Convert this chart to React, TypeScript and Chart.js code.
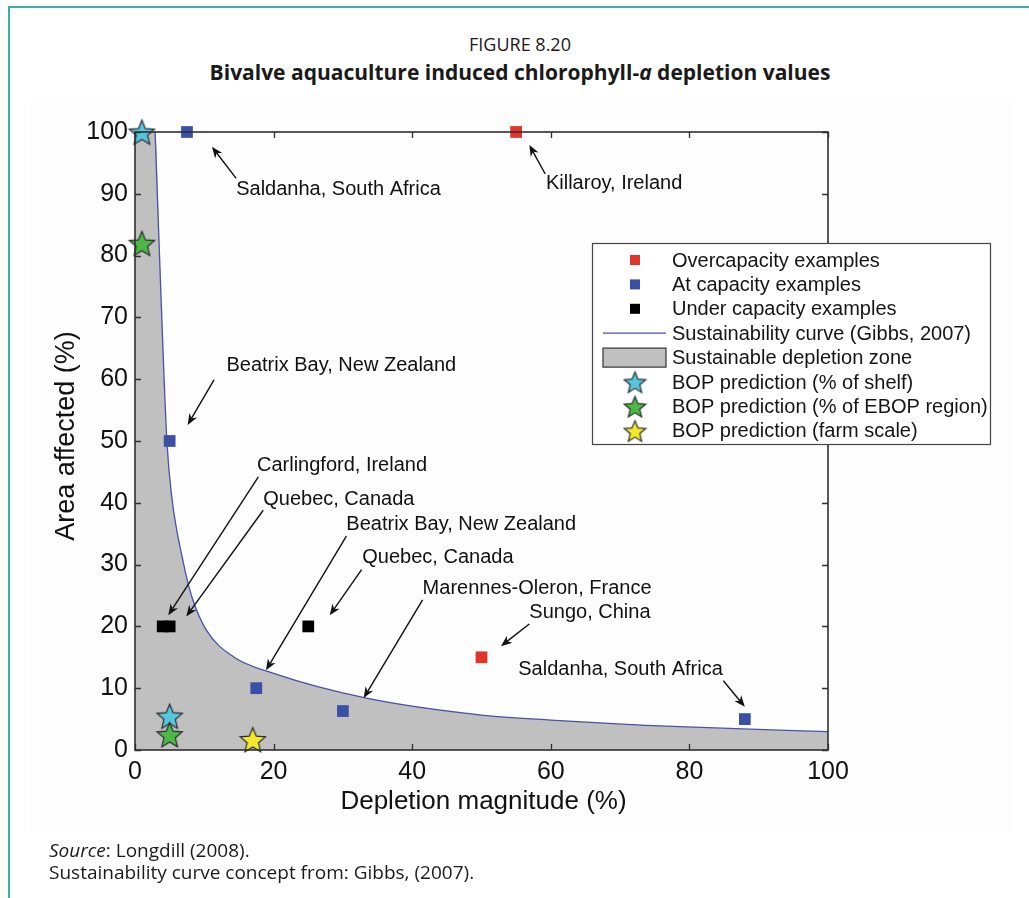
import React, { useEffect, useRef } from "react";
import { Chart, registerables } from "chart.js";
Chart.register(...registerables);

// ---------- data ----------
const overX = [55, 50];
const overY = [100, 15];
const atX = [7.5, 5, 17.5, 30, 88];
const atY = [100, 50, 10, 6.3, 5];
const underX = [4, 5, 25];
const underY = [20, 20, 20];
const curveX = [2.9, 3.7, 4.6, 5.3, 7, 8.2, 10.3, 14.2, 20, 33.4, 50, 60, 78.6, 100];
const curveY = [100, 75, 50, 41, 30.2, 24.8, 19.4, 15.1, 12.4, 8.4, 5.66, 4.85, 3.77, 2.96];
const shelfX = [1, 5];
const shelfY = [100, 5.5];
const ebopX = [1, 5];
const ebopY = [82, 2.5];
const farmX = [17];
const farmY = [1.7];

const xTicks = [0, 20, 40, 60, 80, 100];
const yTicks = [0, 10, 20, 30, 40, 50, 60, 70, 80, 90, 100];

const annText = [
  "Saldanha, South Africa",
  "Killaroy, Ireland",
  "Beatrix Bay, New Zealand",
  "Carlingford, Ireland",
  "Quebec, Canada",
  "Beatrix Bay, New Zealand",
  "Quebec, Canada",
  "Marennes-Oleron, France",
  "Sungo, China",
  "Saldanha, South Africa",
];
const annTextX = [14.6, 59.3, 13.2, 17.6, 18.5, 30.5, 32.8, 41.5, 56.9, 55.3];
const annTextY = [90.7, 91.6, 62.3, 46.0, 40.6, 36.5, 31.2, 26.2, 22.2, 13.1];
const annTailX = [14.6, 59.2, 11.4, 17.8, 18.5, 30.5, 32.7, 41.5, 56.9, 84.9];
const annTailY = [92.5, 93.2, 59.9, 44.2, 38.8, 34.6, 29.2, 24.3, 20.4, 11.2];
const annTipX = [11.1, 56.9, 7.6, 4.8, 7.4, 18.9, 28.1, 33.0, 52.8, 88.0];
const annTipY = [97.6, 97.9, 52.6, 21.8, 21.6, 12.9, 21.8, 8.4, 16.8, 7.0];

const legendLabels = [
  "Overcapacity examples",
  "At capacity examples",
  "Under capacity examples",
  "Sustainability curve (Gibbs, 2007)",
  "Sustainable depletion zone",
  "BOP prediction (% of shelf)",
  "BOP prediction (% of EBOP region)",
  "BOP prediction (farm scale)",
];

const RED = "#e3342c";
const BLUE = "#3a4fa6";
const BLACK = "#000000";
const CURVE = "#4a4fb0";
const ZONE = "#c0c0c1";
const CYAN = "#55c6dd";
const GREEN = "#4cb847";
const YELLOW = "#f1ea2c";

const FONT = '"Liberation Sans", Arial, Helvetica, sans-serif';

function starImage(fill: string, size: number) {
  const c = document.createElement("canvas");
  c.width = size;
  c.height = size;
  const ctx = c.getContext("2d")!;
  const cx = size / 2;
  const cy = size / 2 + size * 0.05;
  const R = size / 2 - 1.2;
  const r = R * 0.45;
  ctx.beginPath();
  for (let i = 0; i < 10; i++) {
    const rad = i % 2 === 0 ? R : r;
    const a = -Math.PI / 2 + (i * Math.PI) / 5;
    const px = cx + rad * Math.cos(a);
    const py = cy + rad * Math.sin(a);
    if (i === 0) ctx.moveTo(px, py);
    else ctx.lineTo(px, py);
  }
  ctx.closePath();
  ctx.fillStyle = fill;
  ctx.fill();
  ctx.lineWidth = 1.2;
  ctx.strokeStyle = "#2a2a2a";
  ctx.stroke();
  return c;
}

const pts = (xs: number[], ys: number[]) => xs.map((x, i) => ({ x, y: ys[i] }));

export default function App() {
  const ref = useRef<HTMLCanvasElement | null>(null);

  useEffect(() => {
    if (!ref.current) return;
    const starCyan = starImage(CYAN, 29);
    const starGreen = starImage(GREEN, 29);
    const starYellow = starImage(YELLOW, 29);
    const legStars = [starImage(CYAN, 25), starImage(GREEN, 25), starImage(YELLOW, 25)];

    const decor = {
      id: "decor",
      afterDraw(chart: any) {
        const { ctx, chartArea: a, scales } = chart;
        const sx = scales.x;
        const sy = scales.y;
        ctx.save();
        // frame
        ctx.strokeStyle = "#2f2f2f";
        ctx.lineWidth = 1.6;
        ctx.strokeRect(a.left, a.top, a.right - a.left, a.bottom - a.top);
        // inside ticks
        ctx.lineWidth = 1.3;
        ctx.beginPath();
        xTicks.forEach((v) => {
          const px = Math.round(sx.getPixelForValue(v)) + 0.5;
          ctx.moveTo(px, a.bottom);
          ctx.lineTo(px, a.bottom - 6);
          ctx.moveTo(px, a.top);
          ctx.lineTo(px, a.top + 6);
        });
        yTicks.forEach((v) => {
          const py = Math.round(sy.getPixelForValue(v)) + 0.5;
          ctx.moveTo(a.left, py);
          ctx.lineTo(a.left + 6, py);
          ctx.moveTo(a.right, py);
          ctx.lineTo(a.right - 6, py);
        });
        ctx.stroke();

        // axis titles
        ctx.fillStyle = "#111";
        ctx.font = `26px ${FONT}`;
        ctx.textAlign = "center";
        ctx.textBaseline = "middle";
        ctx.fillText("Depletion magnitude (%)", (a.left + a.right) / 2 + 2, a.bottom + 52);
        ctx.save();
        ctx.translate(a.left - 68, (a.top + a.bottom) / 2 - 5);
        ctx.rotate(-Math.PI / 2);
        ctx.font = `27px ${FONT}`;
        ctx.fillText("Area affected (%)", 0, 0);
        ctx.restore();

        // annotations
        ctx.font = `20px ${FONT}`;
        ctx.textAlign = "left";
        ctx.textBaseline = "middle";
        ctx.strokeStyle = "#111";
        ctx.fillStyle = "#111";
        ctx.lineWidth = 1.4;
        annText.forEach((t, i) => {
          ctx.fillText(t, sx.getPixelForValue(annTextX[i]), sy.getPixelForValue(annTextY[i]));
          const x0 = sx.getPixelForValue(annTailX[i]);
          const y0 = sy.getPixelForValue(annTailY[i]);
          const x1 = sx.getPixelForValue(annTipX[i]);
          const y1 = sy.getPixelForValue(annTipY[i]);
          const ang = Math.atan2(y1 - y0, x1 - x0);
          const L = 12;
          const spread = 0.38;
          const bx = x1 - L * 0.65 * Math.cos(ang);
          const by = y1 - L * 0.65 * Math.sin(ang);
          ctx.beginPath();
          ctx.moveTo(x0, y0);
          ctx.lineTo(bx, by);
          ctx.stroke();
          ctx.beginPath();
          ctx.moveTo(x1, y1);
          ctx.lineTo(x1 - L * Math.cos(ang - spread), y1 - L * Math.sin(ang - spread));
          ctx.lineTo(bx, by);
          ctx.lineTo(x1 - L * Math.cos(ang + spread), y1 - L * Math.sin(ang + spread));
          ctx.closePath();
          ctx.fill();
        });

        // legend
        const lx = a.left + 457;
        const ly = a.top + 111;
        const lw = 398;
        const lh = 201;
        ctx.fillStyle = "#ffffff";
        ctx.fillRect(lx, ly, lw, lh);
        ctx.strokeStyle = "#444";
        ctx.lineWidth = 1.2;
        ctx.strokeRect(lx + 0.5, ly + 0.5, lw, lh);
        const symX = lx + 43;
        const txtX = lx + 80;
        legendLabels.forEach((lab, i) => {
          const cy = ly + 17 + i * 24.4;
          if (i <= 2) {
            ctx.fillStyle = [RED, BLUE, BLACK][i];
            ctx.fillRect(symX - 5, cy - 5, 10, 10);
          } else if (i === 3) {
            ctx.strokeStyle = CURVE;
            ctx.lineWidth = 1.3;
            ctx.beginPath();
            ctx.moveTo(lx + 11, cy);
            ctx.lineTo(lx + 74, cy);
            ctx.stroke();
          } else if (i === 4) {
            ctx.fillStyle = ZONE;
            ctx.fillRect(lx + 11, cy - 9.5, 63, 19);
            ctx.strokeStyle = "#333";
            ctx.lineWidth = 1.2;
            ctx.strokeRect(lx + 11, cy - 9.5, 63, 19);
          } else {
            const img = legStars[i - 5];
            ctx.drawImage(img, symX - img.width / 2, cy - img.height / 2);
          }
          ctx.fillStyle = "#151515";
          ctx.font = `20px ${FONT}`;
          ctx.textAlign = "left";
          ctx.textBaseline = "middle";
          ctx.fillText(lab, txtX, cy + 1);
        });
        ctx.restore();
      },
    };

    const chart = new Chart(ref.current, {
      type: "scatter",
      data: {
        datasets: [
          {
            type: "line",
            label: legendLabels[4],
            data: [{ x: 0, y: 100 }, ...pts(curveX, curveY)],
            backgroundColor: ZONE,
            borderWidth: 0,
            pointRadius: 0,
            fill: "origin",
            cubicInterpolationMode: "monotone",
            order: 10,
          } as any,
          {
            type: "line",
            label: legendLabels[3],
            data: pts(curveX, curveY),
            borderColor: CURVE,
            borderWidth: 1.3,
            pointRadius: 0,
            fill: false,
            cubicInterpolationMode: "monotone",
            order: 9,
          } as any,
          {
            label: legendLabels[0],
            data: pts(overX, overY),
            backgroundColor: RED,
            borderWidth: 0,
            pointStyle: "rect",
            pointRadius: 8.3,
            order: 5,
          },
          {
            label: legendLabels[1],
            data: pts(atX, atY),
            backgroundColor: BLUE,
            borderWidth: 0,
            pointStyle: "rect",
            pointRadius: 8.3,
            order: 5,
          },
          {
            label: legendLabels[2],
            data: pts(underX, underY),
            backgroundColor: BLACK,
            borderWidth: 0,
            pointStyle: "rect",
            pointRadius: 8.3,
            order: 5,
          },
          {
            label: legendLabels[5],
            data: pts(shelfX, shelfY),
            pointStyle: starCyan,
            pointRadius: 14,
            order: 2,
          },
          {
            label: legendLabels[6],
            data: pts(ebopX, ebopY),
            pointStyle: starGreen,
            pointRadius: 14,
            order: 1,
          },
          {
            label: legendLabels[7],
            data: pts(farmX, farmY),
            pointStyle: starYellow,
            pointRadius: 14,
            order: 1,
          },
        ],
      },
      options: {
        responsive: false,
        animation: false,
        clip: false as any,
        layout: { padding: { top: 32, right: 201, bottom: 0, left: 0 } },
        plugins: {
          legend: { display: false },
          tooltip: { enabled: false },
          title: { display: false },
        },
        scales: {
          x: {
            type: "linear",
            min: 0,
            max: 100,
            grid: { display: false, drawTicks: false },
            border: { display: false },
            ticks: {
              stepSize: 20,
              padding: 7,
              color: "#111",
              font: { family: FONT, size: 25 },
            },
            afterFit: (s: any) => {
              s.height = 90;
            },
          },
          y: {
            type: "linear",
            min: 0,
            max: 100,
            grid: { display: false, drawTicks: false },
            border: { display: false },
            ticks: {
              stepSize: 10,
              padding: 7,
              color: "#111",
              font: { family: FONT, size: 25 },
            },
            afterFit: (s: any) => {
              s.width = 135;
            },
          },
        },
      },
      plugins: [decor],
    });
    return () => chart.destroy();
  }, []);

  return (
    <div
      style={{
        position: "absolute",
        left: 0,
        top: 0,
        width: 1029,
        height: 898,
        background: "#ffffff",
        overflow: "hidden",
      }}
    >
      <div
        style={{
          position: "absolute",
          left: 8,
          top: 6,
          width: 1021,
          height: 892,
          borderLeft: "2px solid #3eaea8",
          borderTop: "2px solid #3eaea8",
        }}
      />
      <div
        style={{
          position: "absolute",
          left: 30,
          top: 100,
          width: 983,
          height: 732,
          background: "#fdfdfd",
        }}
      />
      <div
        style={{
          position: "absolute",
          left: 0,
          width: 1040,
          top: 31,
          textAlign: "center",
          fontFamily: '"Open Sans", "Noto Sans", sans-serif',
          color: "#1a1a1a",
        }}
      >
        <div style={{ fontSize: 18, lineHeight: "27px" }}>FIGURE 8.20</div>
        <div style={{ fontSize: 21, lineHeight: "29px", fontWeight: 700 }}>
          Bivalve aquaculture induced chlorophyll-<i>a</i> depletion values
        </div>
      </div>
      <canvas
        ref={ref}
        width={1029}
        height={740}
        style={{ position: "absolute", left: 0, top: 100, width: 1029, height: 740 }}
      />
      <div
        style={{
          position: "absolute",
          left: 49,
          top: 839,
          fontFamily: '"Open Sans", "Noto Sans", sans-serif',
          fontSize: 19,
          lineHeight: "22px",
          color: "#1a1a1a",
        }}
      >
        <div>
          <i>Source</i>: Longdill (2008).
        </div>
        <div>Sustainability curve concept from: Gibbs, (2007).</div>
      </div>
    </div>
  );
}
